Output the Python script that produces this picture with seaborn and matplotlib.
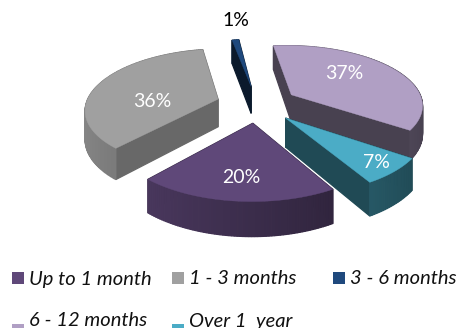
import matplotlib
matplotlib.use('Agg')
import matplotlib.pyplot as plt
from matplotlib.patches import Polygon, Rectangle
import numpy as np
import seaborn as sns

# data
categories = ['Up to 1 month', '1 - 3 months', '3 - 6 months', '6 - 12 months', 'Over 1  year']
values = [20, 36, 1, 37, 7]
pct_labels = ['20%', '36%', '1%', '37%', '7%']
colors = ['#5F4879', '#A0A0A0', '#1F497D', '#B09FC4', '#4BACC6']

# look of the pie
side_shade = [0.5, 0.65, 0.35, 0.41, 0.43]
label_radius = [0.73, 0.5, 1.5, 0.6, 0.85]
label_turn = [0, -21, 2.5, -10, 0]
label_colors = ['white', 'white', 'black', 'white', 'white']
cx, cy = 257, 104
R = 132
k = 0.45
p = 0.155
depth = 28
explode = 0.31
start = 150

legend_x = [12, 172, 333, 12, 172]
legend_y = [279, 279, 279, 321, 321]
swatch_y = [272, 272, 272, 324, 324]

sns.set_theme(style='white')
plt.rcParams['font.family'] = ['Lato', 'DejaVu Sans']


def project(x, y, z=0):
    f = 1 / (1 + p * y / R)
    return cx + x * f, cy - k * y * f + z * f


def mix(color, s):
    return tuple(np.array(matplotlib.colors.to_rgb(color)) * s)


fig = plt.figure(figsize=(4.59, 3.28), dpi=100)
ax = fig.add_axes([0, 0, 1, 1])
ax.set_xlim(0, 459)
ax.set_ylim(328, 0)
ax.axis('off')

sweeps = np.array(values) / sum(values) * 360
starts = start + np.concatenate([[0], np.cumsum(sweeps)[:-1]])
mids = np.radians(starts + sweeps / 2)
off_x = R * explode * np.sin(mids)
off_y = R * explode * np.cos(mids)

# back slices first
order = np.argsort(-off_y)
for i in order:
    th = np.radians(np.linspace(starts[i], starts[i] + sweeps[i], max(int(sweeps[i]), 2) + 1))
    ax_x = off_x[i] + R * np.sin(th)
    ax_y = off_y[i] + R * np.cos(th)
    ap = (off_x[i], off_y[i])

    # walls: (mean ground y, polygon, colour)
    walls = []
    for j in range(len(th) - 1):
        pts = [project(ax_x[j], ax_y[j]), project(ax_x[j + 1], ax_y[j + 1]),
               project(ax_x[j + 1], ax_y[j + 1], depth), project(ax_x[j], ax_y[j], depth)]
        mid = (th[j] + th[j + 1]) / 2
        s = 0.62 - 0.22 * np.sin(mid)
        walls.append(((ax_y[j] + ax_y[j + 1]) / 2, pts, mix(colors[i], s)))
    for e in [0, -1]:
        pts = [project(*ap), project(ax_x[e], ax_y[e]),
               project(ax_x[e], ax_y[e], depth), project(*ap, depth)]
        walls.append(((ap[1] + ax_y[e]) / 2, pts, mix(colors[i], side_shade[i])))
    walls.sort(key=lambda w: -w[0])
    for _, pts, c in walls:
        ax.add_patch(Polygon(pts, closed=True, fc=c, ec=c, lw=0.9))

    top = [project(*ap)] + [project(a, b) for a, b in zip(ax_x, ax_y)]
    ax.add_patch(Polygon(top, closed=True, fc=colors[i], ec=colors[i], lw=0.3))

for i in range(len(values)):
    ang = mids[i] + np.radians(label_turn[i])
    lx = off_x[i] + label_radius[i] * R * np.sin(ang)
    ly = off_y[i] + label_radius[i] * R * np.cos(ang)
    tx, ty = project(lx, ly)
    ax.text(tx, ty, pct_labels[i], color=label_colors[i], fontsize=14,
            ha='center', va='center')

for name, c, x, y, sy in zip(categories, colors, legend_x, legend_y, swatch_y):
    ax.add_patch(Rectangle((x, sy), 12, 12, fc=c, ec='none'))
    ax.text(x + 17, y, name, fontsize=14.5, style='italic', color='#111111',
            ha='left', va='center')

fig.savefig('out.png', dpi=100)
